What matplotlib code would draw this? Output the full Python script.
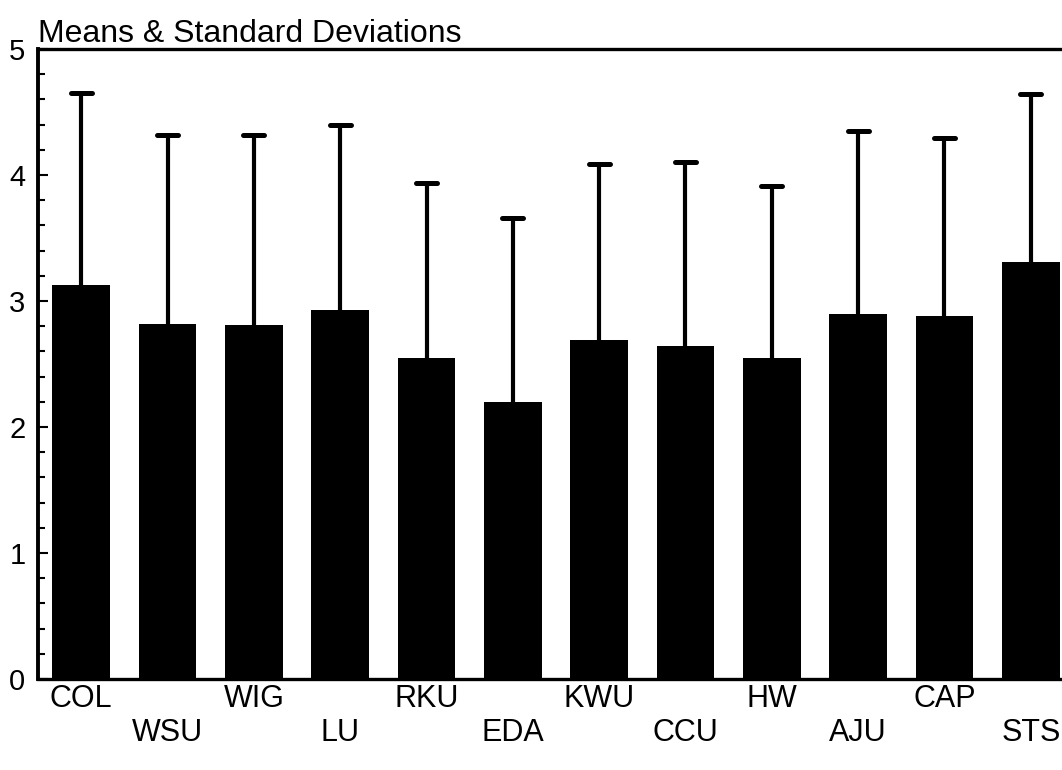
import matplotlib
matplotlib.use("Agg")
import matplotlib.pyplot as plt
from matplotlib.ticker import MultipleLocator
import numpy as np

categories = ["COL", "WSU", "WIG", "LU", "RKU", "EDA", "KWU", "CCU", "HW", "AJU", "CAP", "STS"]
means = [3.13, 2.815, 2.81, 2.93, 2.545, 2.20, 2.69, 2.64, 2.55, 2.895, 2.88, 3.31]
upper = [4.65, 4.32, 4.32, 4.40, 3.94, 3.66, 4.085, 4.10, 3.91, 4.35, 4.29, 4.64]
title = "Means & Standard Deviations"

plt.rcParams['font.family'] = ['Liberation Sans', 'DejaVu Sans']

fig = plt.figure(figsize=(10.62, 7.70), dpi=100)
ax = fig.add_axes([38.0 / 1062, 1 - 679 / 770, (1074 - 38.0) / 1062, (679 - 49) / 770])

x = np.arange(len(categories))
ax.bar(x, means, width=0.666, color='black', zorder=2)
# upper standard-deviation whiskers with caps
ax.vlines(x, means, upper, colors='black', linewidth=3.0, zorder=3)
cap_half = 0.12
ax.hlines(upper, x - cap_half, x + cap_half, colors='black', linewidth=3.6,
          zorder=3, capstyle='round')

ax.set_xlim(-0.5, 11.5)
ax.set_ylim(0, 5)
ax.yaxis.set_major_locator(MultipleLocator(1))
ax.yaxis.set_minor_locator(MultipleLocator(0.2))
ax.tick_params(axis='y', which='major', direction='in', length=7.5, width=1.5,
               labelsize=21, pad=9)
ax.tick_params(axis='y', which='minor', direction='in', length=5, width=1.5)

ax.set_xticks(x)
ax.set_xticklabels([])
ax.tick_params(axis='x', length=0)
for i, c in enumerate(categories):
    off = -20.5 if i % 2 == 0 else -44.5
    ax.annotate(c, xy=(i, 0), xycoords=('data', 'axes fraction'),
                xytext=(0, off), textcoords='offset points',
                ha='center', va='baseline', fontsize=22, annotation_clip=False)

for s in ['top', 'left', 'bottom']:
    ax.spines[s].set_linewidth(2.4)
    ax.spines[s].set_color('black')
ax.spines['left'].set_linewidth(2.8)
ax.spines['right'].set_visible(False)

ax.set_title(title, loc='left', fontsize=23, pad=4, x=0.0)

fig.savefig("out.png", dpi=100)
